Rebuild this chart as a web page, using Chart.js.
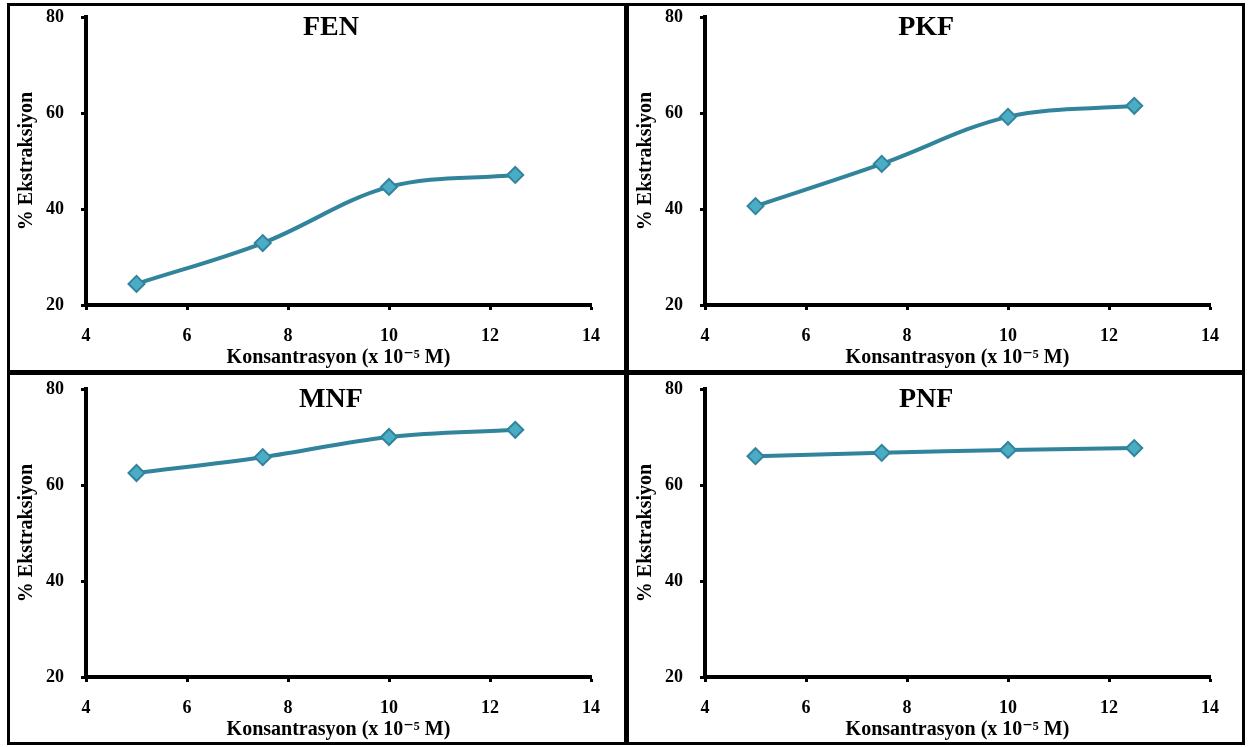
<!DOCTYPE html>
<html>
<head>
<meta charset="utf-8">
<script src="https://cdn.jsdelivr.net/npm/chart.js@4.4.1/dist/chart.umd.min.js"></script>
<style>
  body { margin: 0; background: #fff; width: 1248px; height: 747px; position: relative; overflow: hidden; }
  .cerceve { position: absolute; left: 7px; top: 3px; width: 1238px; height: 742px; border: 3px solid #000; box-sizing: border-box; }
  .dikey { position: absolute; left: 624px; top: 3px; width: 5px; height: 742px; background: #000; }
  .yatay { position: absolute; left: 7px; top: 370px; width: 1238px; height: 5px; background: #000; }
  canvas { position: absolute; }
</style>
</head>
<body>
<div class="cerceve"></div>
<div class="dikey"></div>
<div class="yatay"></div>
<canvas id="grafikFEN" width="614" height="364" style="left:10px;top:6px"></canvas>
<canvas id="grafikPKF" width="613" height="364" style="left:629px;top:6px"></canvas>
<canvas id="grafikMNF" width="614" height="367" style="left:10px;top:375px"></canvas>
<canvas id="grafikPNF" width="613" height="367" style="left:629px;top:375px"></canvas>
<script>
// Konsantrasyon (x 10^-5 M) ve % ekstraksiyon değerleri
const konsantrasyon = [5, 7.5, 10, 12.5];
const fen = [24.4, 32.9, 44.6, 47.1];
const pkf = [40.6, 49.4, 59.2, 61.5];
const mnf = [62.5, 65.8, 70.0, 71.5];
const pnf = [66.0, 66.7, 67.3, 67.7];

const panelAdlari = ['FEN', 'PKF', 'MNF', 'PNF'];
const xEksen = { min: 4, max: 14, adim: 2 };
const yEksen = { min: 20, max: 80, adim: 20 };

const FONT = "'Liberation Serif', 'DejaVu Serif', serif";

// Başlık grafiğin içine çiziliyor (Excel'deki gibi)
const baslikEklentisi = {
    id: 'icBaslik',
    afterDraw(chart, args, opts) {
        const { ctx, chartArea } = chart;
        ctx.save();
        ctx.font = `bold 28px ${FONT}`;
        ctx.fillStyle = '#000';
        ctx.textAlign = 'center';
        ctx.textBaseline = 'middle';
        ctx.fillText(opts.text, chartArea.left + chartArea.width * opts.oran, chartArea.top + 11);
        ctx.restore();
    }
};

function grafikCiz(id, ad, degerler, ust, sag, oran) {
    const ctx = document.getElementById(id).getContext('2d');
    new Chart(ctx, {
        type: 'line',
        data: {
            datasets: [{
                data: konsantrasyon.map((k, i) => ({ x: k, y: degerler[i] })),
                borderColor: '#31849B',
                borderWidth: 4,
                tension: 0.35,
                pointStyle: 'rectRot',
                pointRadius: 8,
                pointBorderWidth: 2,
                pointBackgroundColor: '#4BACC6',
                pointBorderColor: '#31849B'
            }]
        },
        options: {
            responsive: false,
            animation: false,
            devicePixelRatio: 1,
            layout: { padding: { top: ust, right: sag, bottom: 0, left: 0 } },
            plugins: {
                legend: { display: false },
                tooltip: { enabled: false },
                icBaslik: { text: ad, oran: oran }
            },
            scales: {
                x: {
                    type: 'linear',
                    min: xEksen.min,
                    max: xEksen.max,
                    afterFit: (s) => { s.height = 65; },
                    grid: { drawOnChartArea: false, drawTicks: true, tickLength: 5, tickWidth: 3, tickColor: '#000' },
                    border: { display: true, color: '#000', width: 4 },
                    ticks: {
                        stepSize: xEksen.adim,
                        color: '#000',
                        padding: 16,
                        maxRotation: 0,
                        font: { family: FONT, size: 18, weight: 'bold' }
                    },
                    title: {
                        display: true,
                        text: 'Konsantrasyon (x 10⁻⁵ M)',
                        color: '#000',
                        padding: { top: 4, bottom: 0 },
                        font: { family: FONT, size: 20, weight: 'bold' }
                    }
                },
                y: {
                    min: yEksen.min,
                    max: yEksen.max,
                    // etiket boşluğu üst kenarı aşağı itmesin
                    afterFit: (s) => { s.width = 76; s.paddingTop = 8; s.paddingBottom = 8; },
                    grid: { drawOnChartArea: false, drawTicks: true, tickLength: 5, tickWidth: 3, tickColor: '#000' },
                    border: { display: true, color: '#000', width: 4 },
                    ticks: {
                        stepSize: yEksen.adim,
                        color: '#000',
                        padding: 17,
                        font: { family: FONT, size: 18, weight: 'bold' }
                    },
                    title: {
                        display: true,
                        text: '% Ekstraksiyon',
                        color: '#000',
                        padding: { top: 5, bottom: 4 },
                        font: { family: FONT, size: 20, weight: 'bold' }
                    }
                }
            }
        },
        plugins: [baslikEklentisi]
    });
}

grafikCiz('grafikFEN', panelAdlari[0], fen, 11, 33, 0.485);
grafikCiz('grafikPKF', panelAdlari[1], pkf, 11, 32, 0.438);
grafikCiz('grafikMNF', panelAdlari[2], mnf, 14, 33, 0.485);
grafikCiz('grafikPNF', panelAdlari[3], pnf, 14, 32, 0.438);
</script>
</body>
</html>
